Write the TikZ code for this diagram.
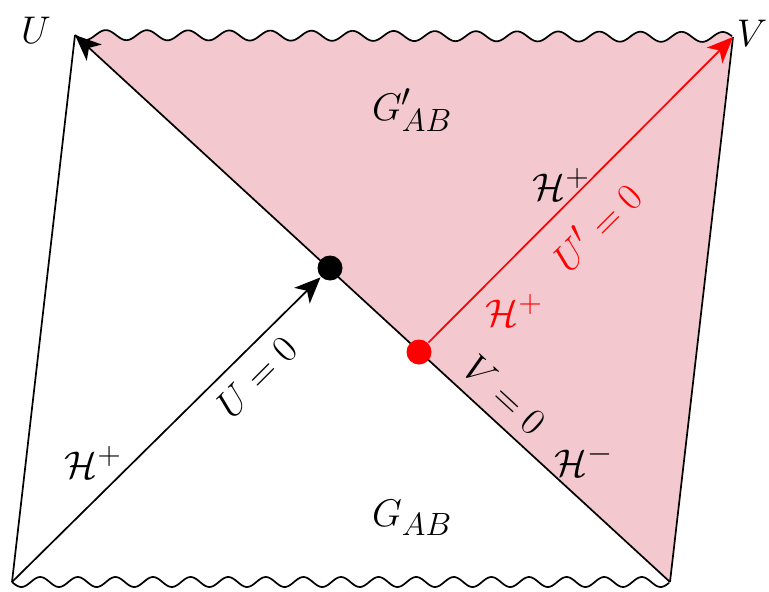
\documentclass[tikz,border=0pt]{standalone}
\usetikzlibrary{arrows.meta}
\definecolor{pinkfill}{RGB}{243,200,207}
\begin{document}
\begin{tikzpicture}[x=1pt,y=-1pt, line width=1.7pt,
  lbl/.style={font=\Huge, inner sep=0pt, scale=1.55},
  dotnode/.style={circle, inner sep=0pt, minimum size=25pt},
  tipped/.style={-{Stealth[length=26pt,width=22pt,inset=7pt]}}]
\useasboundingbox (0,0) rectangle (769,592);
\coordinate (tl) at (75,35);
\coordinate (tr) at (733,37);
\coordinate (bl) at (12,582);
\coordinate (br) at (670,582);
\node[dotnode] (bdot) at (330,268) {};
\node[dotnode] (rdot) at (419,352) {};
% pink region with wavy top
\fill[pinkfill] plot[domain=0:1, samples=400, smooth] ({75+658*\x}, {35+2*\x+5*sin(360*16*\x)}) -- (br) -- cycle;
% wavy singularities
\draw plot[domain=0:1, samples=400, smooth] ({75+658*\x}, {35+2*\x+5*sin(360*16*\x)});
\draw plot[domain=0:1, samples=400, smooth] ({12+658*\x}, {582+5*sin(360*17.5*\x)});
\draw (tl) -- (bl);
\draw (tr) -- (br);
\draw[tipped] (br) -- (tl);
\draw[tipped] (bl) -- (bdot);
\draw[tipped, red] (rdot) -- (tr);
\fill[black] (bdot.center) circle (12.5pt);
\fill[red] (rdot.center) circle (12.5pt);
\node[lbl] (lu) at (36,30) {$U$};
\node[lbl] (lv) at (752,33) {$V$};
\node[lbl] (gp) at (412,110) {$G'_{AB}$};
\node[lbl] (g) at (412,518) {$G_{AB}$};
\node[lbl] (hl) at (93,462) {$\mathcal{H}^+$};
\node[lbl] (hu) at (561,184) {$\mathcal{H}^+$};
\node[lbl, red, rotate=45] (up) at (596,226) {$U'=0$};
\node[lbl, red] (hr) at (514,310) {$\mathcal{H}^+$};
\node[lbl, rotate=45] (u0) at (257,377) {$U=0$};
\node[lbl, rotate=-42.6] (v0) at (505,395) {$V=0$};
\node[lbl] (hm) at (584,460) {$\mathcal{H}^-$};
\end{tikzpicture}
\end{document}
